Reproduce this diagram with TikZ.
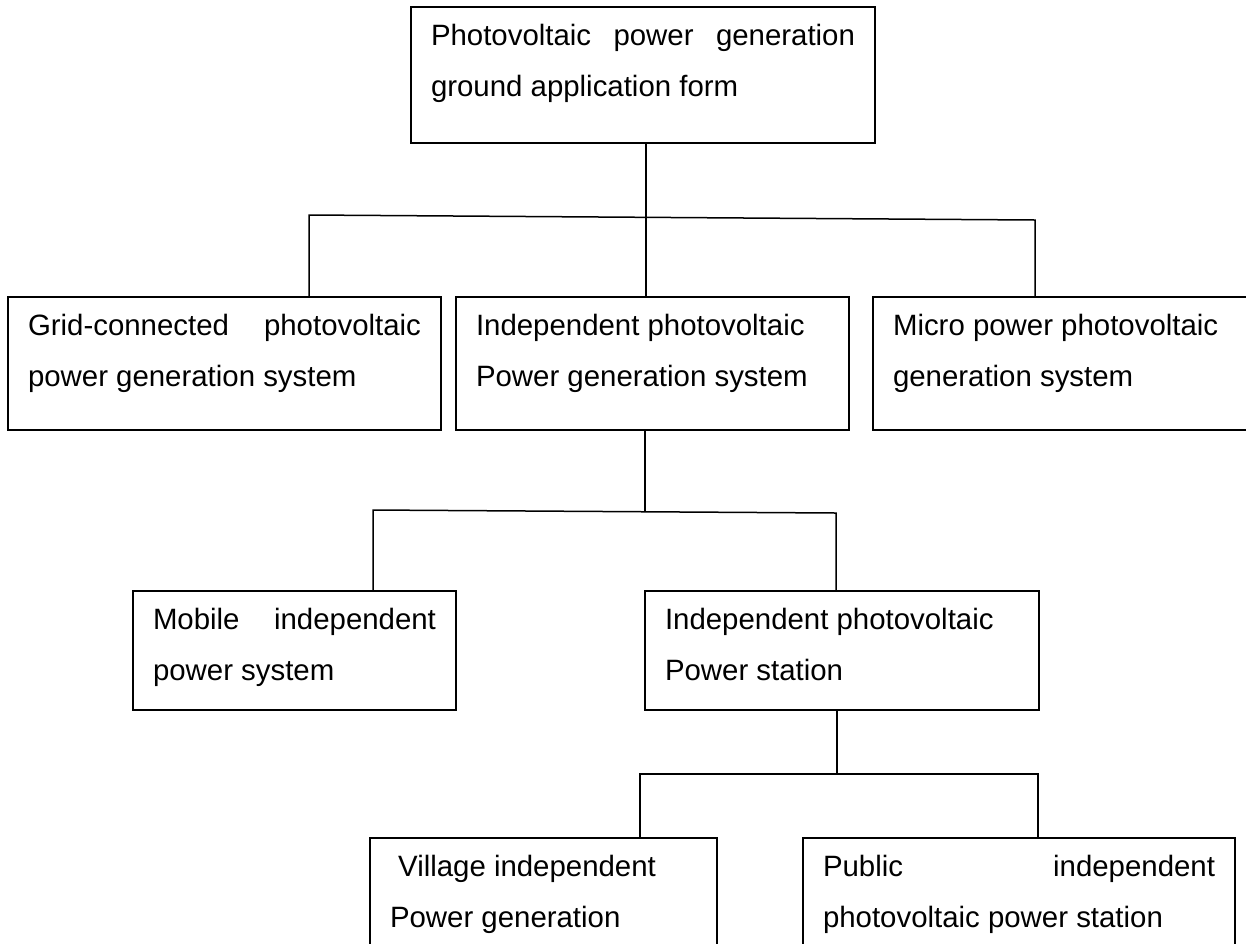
\documentclass[tikz,border=0pt]{standalone}
\usepackage{fontspec}
\setmainfont{Liberation Sans}
\newcommand{\boxtext}[3]{\parbox[t][#2][t]{#1}{#3}}

\begin{document}
\begin{tikzpicture}[x=0.5pt, y=-0.5pt, line width=0.75pt,
    font=\fontsize{14.7}{25.5}\selectfont,
    block/.style={draw, anchor=north west, inner xsep=10pt, inner ysep=8.5pt, outer sep=0pt}]
    \clip (0,0) rectangle (1246,943);

    % Top level
    \node[block] (form) at (411,7) {\boxtext{212pt}{51pt}{Photovoltaic\hfill power\hfill generation\\ground application form}};

    % Second level
    \node[block] (grid) at (8,297) {\boxtext{196.5pt}{49.5pt}{Grid-connected\hfill photovoltaic\\power generation system}};
    \node[block] (indep) at (456,297) {\boxtext{176.5pt}{49.5pt}{Independent photovoltaic\\Power generation system}};
    \node[block] (micro) at (873,297) {\boxtext{188.5pt}{49.5pt}{Micro power photovoltaic\\generation system}};

    % Third level
    \node[block] (mobile) at (133,591) {\boxtext{141.5pt}{42.5pt}{Mobile\hfill independent\\power system}};
    \node[block] (station) at (645,591) {\boxtext{177pt}{42.5pt}{Independent photovoltaic\\Power station}};

    % Fourth level
    \node[block] (village) at (370,838) {\boxtext{153.5pt}{48pt}{\ Village independent\\Power generation}};
    \node[block] (public) at (803,838) {\boxtext{196pt}{48pt}{Public\hfill independent\\photovoltaic power station}};

    % Branch points
    \coordinate (busAL) at (309,215);
    \coordinate (busAM) at (646,217);
    \coordinate (busAR) at (1035,220);
    \coordinate (busBL) at (373,510);
    \coordinate (busBM) at (645,511);
    \coordinate (busBR) at (836,513);
    \coordinate (busCL) at (640,774);
    \coordinate (busCM) at (837,774);
    \coordinate (busCR) at (1038,774);

    % Connectors
    \draw (form.south -| busAM) -- (indep.north -| busAM);
    \draw (grid.north -| busAL) -- (busAL) -- (busAR) -- (micro.north -| busAR);
    \draw (indep.south -| busBM) -- (busBM);
    \draw (mobile.north -| busBL) -- (busBL) -- (busBR) -- (station.north -| busBR);
    \draw (station.south -| busCM) -- (busCM);
    \draw (village.north -| busCL) -- (busCL) -- (busCR) -- (public.north -| busCR);
\end{tikzpicture}
\end{document}
